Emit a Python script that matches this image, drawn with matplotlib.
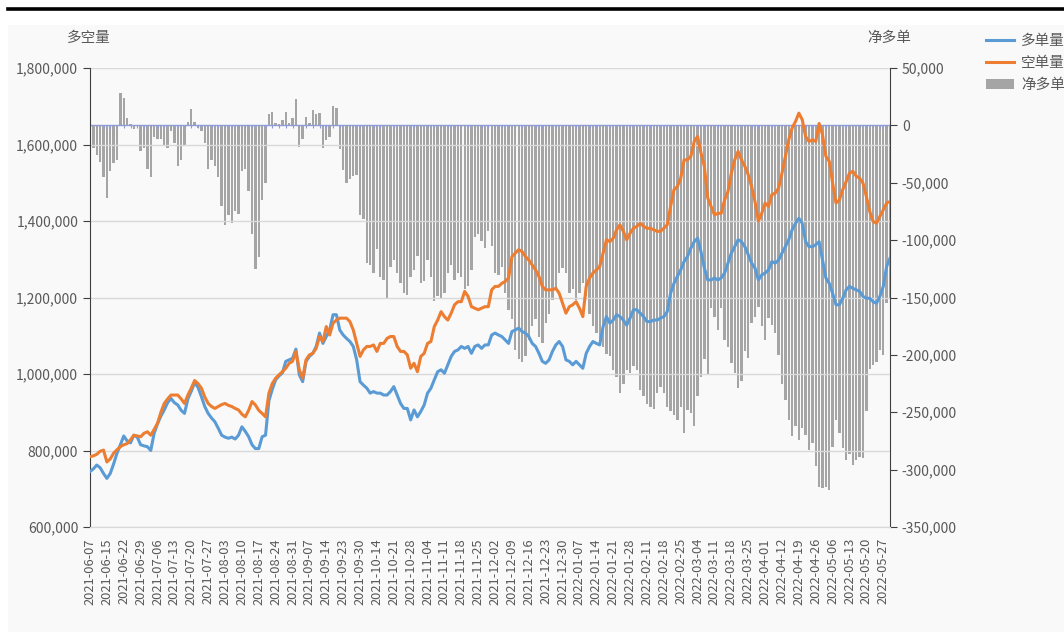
import matplotlib
matplotlib.use("Agg")
import matplotlib.pyplot as plt
import numpy as np
import pandas as pd
from matplotlib.lines import Line2D
from matplotlib.patches import Rectangle, Patch
from matplotlib.ticker import FuncFormatter, MultipleLocator, FixedLocator, FixedFormatter

plt.rcParams['font.family'] = ['Noto Sans CJK SC', 'DejaVu Sans']

# ---- data ----
start_date = "2021-06-07"
end_date = "2022-05-31"
holidays = ["2021-06-14", "2021-09-20", "2021-09-21", "2021-10-01", "2021-10-04",
            "2021-10-05", "2021-10-06", "2021-10-07", "2022-01-03", "2022-01-31",
            "2022-02-01", "2022-02-02", "2022-02-03", "2022-02-04", "2022-04-04",
            "2022-04-05", "2022-05-02", "2022-05-03", "2022-05-04"]

# 多单量 (thousand lots)
long_k = [745, 752, 762, 755, 740, 727, 740, 765, 793, 815, 838, 825, 820, 840, 835, 815, 812, 810, 800, 845,
          870, 890, 906, 925, 936, 925, 919, 905, 897, 935, 955, 978, 965, 941, 915, 897, 885, 875, 858, 840,
          835, 832, 835, 830, 840, 862, 850, 836, 815, 805, 805, 836, 840, 930, 960, 985, 995, 1003, 1033, 1037,
          1041, 1065, 998, 980, 1033, 1046, 1054, 1072, 1107, 1080, 1098, 1115, 1155, 1155, 1115, 1102, 1093, 1085, 1072, 1037,
          980, 971, 963, 950, 954, 950, 950, 945, 945, 954, 967, 945, 923, 910, 910, 880, 906, 888, 902, 919,
          950, 963, 985, 1006, 1011, 1002, 1024, 1046, 1059, 1063, 1072, 1067, 1072, 1054, 1072, 1076, 1067, 1076, 1076, 1102,
          1107, 1102, 1098, 1089, 1080, 1111, 1115, 1120, 1111, 1107, 1098, 1080, 1072, 1054, 1033, 1028, 1037, 1059, 1076, 1085,
          1072, 1037, 1033, 1024, 1033, 1024, 1015, 1054, 1072, 1085, 1080, 1076, 1124, 1150, 1133, 1141, 1155, 1150, 1141, 1128,
          1146, 1168, 1168, 1159, 1150, 1137, 1137, 1141, 1141, 1146, 1150, 1163, 1211, 1237, 1255, 1272, 1294, 1307, 1329, 1346,
          1355, 1320, 1277, 1246, 1246, 1251, 1246, 1251, 1264, 1290, 1316, 1333, 1351, 1346, 1333, 1312, 1290, 1277, 1246, 1259,
          1264, 1272, 1294, 1290, 1298, 1316, 1333, 1351, 1377, 1394, 1407, 1394, 1346, 1333, 1333, 1338, 1346, 1298, 1251, 1237,
          1211, 1181, 1181, 1198, 1220, 1229, 1224, 1220, 1216, 1203, 1198, 1198, 1189, 1185, 1203, 1229, 1281, 1303]

# 空单量 (thousand lots)
short_k = [784, 786, 790, 798, 801, 770, 778, 793, 802, 810, 815, 818, 828, 840, 838, 836, 845, 849, 840, 855,
           871, 900, 923, 935, 945, 945, 945, 935, 923, 945, 963, 983, 975, 963, 940, 923, 915, 910, 915, 920,
           923, 918, 915, 910, 906, 895, 888, 905, 928, 919, 905, 897, 888, 950, 975, 989, 998, 1006, 1015, 1028,
           1033, 1059, 1011, 989, 1037, 1050, 1054, 1067, 1098, 1085, 1124, 1102, 1133, 1141, 1146, 1146, 1146, 1137, 1115, 1080,
           1046, 1063, 1072, 1072, 1076, 1059, 1080, 1080, 1093, 1098, 1098, 1072, 1059, 1059, 1050, 1015, 1028, 1006, 1046, 1054,
           1080, 1085, 1124, 1141, 1163, 1150, 1141, 1159, 1181, 1189, 1189, 1216, 1203, 1176, 1172, 1168, 1172, 1176, 1176, 1220,
           1229, 1229, 1237, 1242, 1251, 1307, 1316, 1325, 1320, 1307, 1298, 1285, 1272, 1255, 1229, 1220, 1220, 1220, 1224, 1211,
           1185, 1159, 1176, 1181, 1189, 1172, 1150, 1229, 1251, 1264, 1272, 1281, 1316, 1351, 1346, 1355, 1377, 1390, 1373, 1351,
           1368, 1381, 1386, 1394, 1386, 1381, 1381, 1377, 1373, 1373, 1381, 1390, 1438, 1482, 1490, 1512, 1560, 1560, 1569, 1608,
           1621, 1578, 1543, 1460, 1438, 1416, 1420, 1420, 1455, 1477, 1525, 1560, 1582, 1560, 1543, 1521, 1490, 1451, 1400, 1420,
           1447, 1438, 1469, 1473, 1486, 1525, 1569, 1612, 1643, 1660, 1682, 1665, 1621, 1608, 1612, 1608, 1655, 1626, 1569, 1556,
           1499, 1447, 1455, 1482, 1503, 1525, 1530, 1517, 1512, 1499, 1464, 1425, 1399, 1394, 1412, 1429, 1447, 1451]

# 净多单 (thousand lots)
net_k = [-43, -20, -26, -32, -45, -63, -40, -33, -30, 28, 24, 6, 1, -3, 0, -22, -20, -38, -45, -10,
         -12, -12, -18, -20, -5, -15, -35, -30, -18, 3, 14, 3, -2, -5, -15, -38, -30, -35, -45, -70,
         -87, -78, -85, -75, -77, -40, -38, -57, -95, -125, -115, -65, -50, 10, 12, 2, 1, 5, 12, 2,
         6, 23, -19, -12, 7, 2, 13, 10, 11, -20, -13, -10, 17, 15, -21, -39, -50, -47, -44, -43,
         -78, -82, -120, -122, -129, -108, -132, -135, -150, -123, -117, -129, -137, -146, -148, -132, -126, -114, -137, -136,
         -117, -132, -153, -149, -150, -146, -129, -122, -135, -129, -132, -143, -140, -126, -97, -95, -101, -107, -92, -105,
         -129, -130, -123, -146, -161, -169, -196, -204, -206, -201, -187, -175, -169, -184, -190, -172, -164, -152, -143, -129,
         -124, -129, -146, -143, -152, -146, -137, -149, -164, -175, -181, -190, -193, -199, -201, -213, -219, -233, -225, -213,
         -216, -210, -213, -231, -236, -243, -245, -247, -233, -228, -233, -245, -249, -252, -257, -245, -268, -248, -251, -262,
         -236, -219, -204, -217, -159, -167, -178, -159, -187, -193, -207, -216, -229, -223, -197, -203, -172, -167, -158, -175,
         -187, -168, -174, -181, -200, -225, -239, -257, -271, -262, -274, -264, -270, -283, -277, -297, -315, -316, -315, -318,
         -280, -257, -268, -281, -292, -286, -296, -292, -289, -290, -249, -212, -209, -206, -196, -200, -155, -150]

series_names = ["多单量", "空单量", "净多单"]
left_title = "多空量"
right_title = "净多单"

# ---- build ----
days = pd.bdate_range(start_date, end_date)
days = days[~days.isin(pd.to_datetime(holidays))]
dates = [d.strftime("%Y-%m-%d") for d in days]
n = min(len(dates), len(long_k), len(short_k), len(net_k))
dates = dates[:n]
x = np.arange(n)
long_v = np.array(long_k[:n]) * 1000
short_v = np.array(short_k[:n]) * 1000
net_v = np.array(net_k[:n]) * 1000

BLUE = "#5B9BD5"
ORANGE = "#ED7D31"
GRAY = "#A5A5A5"
TXT = "#595959"

fig = plt.figure(figsize=(10.64, 6.42), dpi=100)
fig.patch.set_facecolor("white")
fig.add_artist(Rectangle((8 / 1064, 1 - 632 / 642), 1 - 8 / 1064, (632 - 25) / 642,
                         transform=fig.transFigure, facecolor="#f9f9f9", edgecolor="none", zorder=-10))
fig.add_artist(Line2D([8 / 1064, 1.0], [1 - 9 / 642, 1 - 9 / 642], transform=fig.transFigure,
                      color="black", lw=2.6))

ax = fig.add_axes([90 / 1064, 1 - 527 / 642, 800 / 1064, (527 - 68) / 642])
ax2 = ax.twinx()

ax2.bar(x, net_v, width=0.7, color=GRAY, zorder=2, label=series_names[2])
ax2.axhline(0, color="#8E9BD6", lw=1.0, zorder=3)
ax2.vlines(x[::2], -2500, 0, color="#8E9BD6", lw=0.8, zorder=3)
ax2.set_ylim(-350000, 50000)
ax2.yaxis.set_major_locator(MultipleLocator(50000))
ax2.yaxis.set_major_formatter(FuncFormatter(lambda v, p: f"{int(v):,}"))

ax.plot(x, long_v, color=BLUE, lw=2.2, zorder=5, label=series_names[0])
ax.plot(x, short_v, color=ORANGE, lw=2.2, zorder=5, label=series_names[1])
ax.set_ylim(600000, 1800000)
ax.yaxis.set_major_locator(MultipleLocator(200000))
ax.yaxis.set_major_formatter(FuncFormatter(lambda v, p: f"{int(v):,}"))
ax.grid(axis="y", color="#d9d9d9", lw=1.0)
ax.set_xlim(0, n - 1)

ax.set_zorder(ax2.get_zorder() + 1)
ax.patch.set_visible(False)
ax2.patch.set_visible(False)

tick_idx = list(x[::5])
ax.xaxis.set_major_locator(FixedLocator(tick_idx))
ax.xaxis.set_major_formatter(FixedFormatter([dates[i] for i in tick_idx]))
ax.tick_params(axis="x", length=0, pad=8, labelsize=9.3, labelcolor=TXT, labelrotation=90)
ax.tick_params(axis="y", labelsize=10, colors=TXT, length=5, color="#404040")
ax2.tick_params(axis="y", labelsize=10, colors=TXT, length=5, color="#404040")
ax2.tick_params(axis="x", which="both", bottom=False, top=False, labelbottom=False, labeltop=False)

for a in (ax, ax2):
    a.spines["top"].set_visible(False)
    a.spines["bottom"].set_color("#d9d9d9")
    a.spines["left"].set_color("#404040")
    a.spines["right"].set_color("#404040")
ax.spines["right"].set_visible(False)
ax2.spines["left"].set_visible(False)

fig.text(89 / 1064, 1 - 38 / 642, left_title, ha="center", va="center", fontsize=10.5, color=TXT)
fig.text(889 / 1064, 1 - 38 / 642, right_title, ha="center", va="center", fontsize=10.5, color=TXT)

handles = [Line2D([], [], color=BLUE, lw=2.2), Line2D([], [], color=ORANGE, lw=2.2),
           Patch(facecolor=GRAY, edgecolor="none")]
fig.legend(handles, series_names, loc="upper left", bbox_to_anchor=(980 / 1064, 1 - 28 / 642),
           frameon=False, fontsize=10.5, labelcolor=TXT, handlelength=1.9, handletextpad=0.5,
           labelspacing=0.55, borderaxespad=0)

fig.savefig("out.png", dpi=100)
